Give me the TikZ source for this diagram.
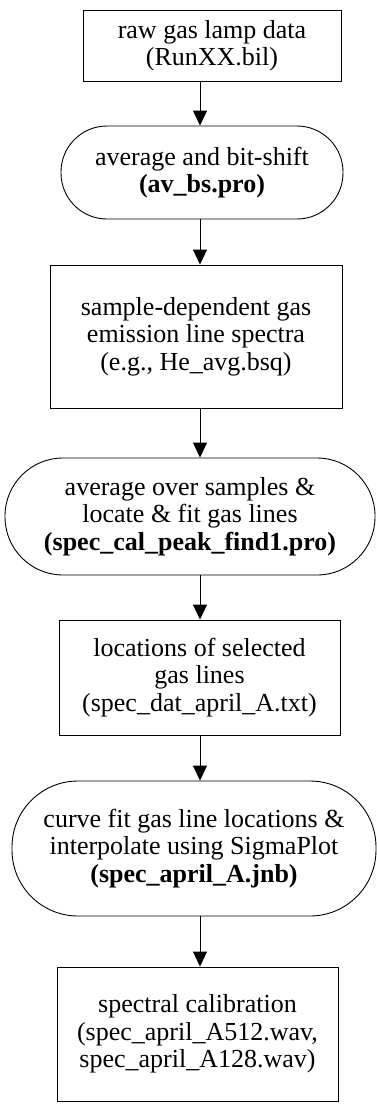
\documentclass[tikz,border=0pt]{standalone}
\usepackage{fontspec}
\setmainfont{Liberation Serif}
\usetikzlibrary{arrows.meta}

\begin{document}
\begin{tikzpicture}[x=1pt,y=-1pt]
	\tikzset{box style/.style={draw, line width=0.9pt, align=center, inner sep=2pt, font=\fontsize{26}{27.5}\selectfont},
	         file style/.style={box style, rectangle},
	         prog style/.style={box style, rounded corners=#1},
	         flow/.style={-{Triangle[width=14pt,length=15pt]}, line width=0.9pt}}
	\useasboundingbox (0,0) rectangle (377,1104);
	\coordinate (axis) at (200,0);
	\node[file style, minimum width=258pt, minimum height=71pt] (raw) at (212,45.5) {raw gas lamp data\\(RunXX.bil)};
	\node[prog style=46pt, minimum width=282pt, minimum height=93pt] (avbs) at (202,172.5) {average and bit-shift\\\textbf{(av\_bs.pro)}};
	\node[file style, minimum width=292pt, minimum height=143pt] (spectra) at (196,336.5) {sample-dependent gas\\emission line spectra\\(e.g., He\_avg.bsq)};
	\node[prog style=58pt, minimum width=370pt, minimum height=117pt] (peakfind) at (190,516.5) {average over samples \&\\locate \& fit gas lines\\\textbf{(spec\_cal\_peak\_find1.pro)}};
	\node[file style, minimum width=281pt, minimum height=115pt] (locs) at (199.5,677.5) {locations of selected\\gas lines\\(spec\_dat\_april\_A.txt)};
	\node[prog style=66pt, minimum width=364pt, minimum height=135pt] (sigma) at (194,848.5) {curve fit gas line locations \&\\interpolate using SigmaPlot\\\textbf{(spec\_april\_A.jnb)}};
	\node[file style, minimum width=281pt, minimum height=134pt] (calib) at (197.5,1034) {spectral calibration\\(spec\_april\_A512.wav,\\spec\_april\_A128.wav)};
	% arrows down the axis
	\draw[flow] (raw.south -| axis) -- (avbs.north -| axis);
	\draw[flow] (avbs.south -| axis) -- (spectra.north -| axis);
	\draw[flow] (spectra.south -| axis) -- (peakfind.north -| axis);
	\draw[flow] (peakfind.south -| axis) -- (locs.north -| axis);
	\draw[flow] (locs.south -| axis) -- (sigma.north -| axis);
	\draw[flow] (sigma.south -| axis) -- (calib.north -| axis);
\end{tikzpicture}
\end{document}
